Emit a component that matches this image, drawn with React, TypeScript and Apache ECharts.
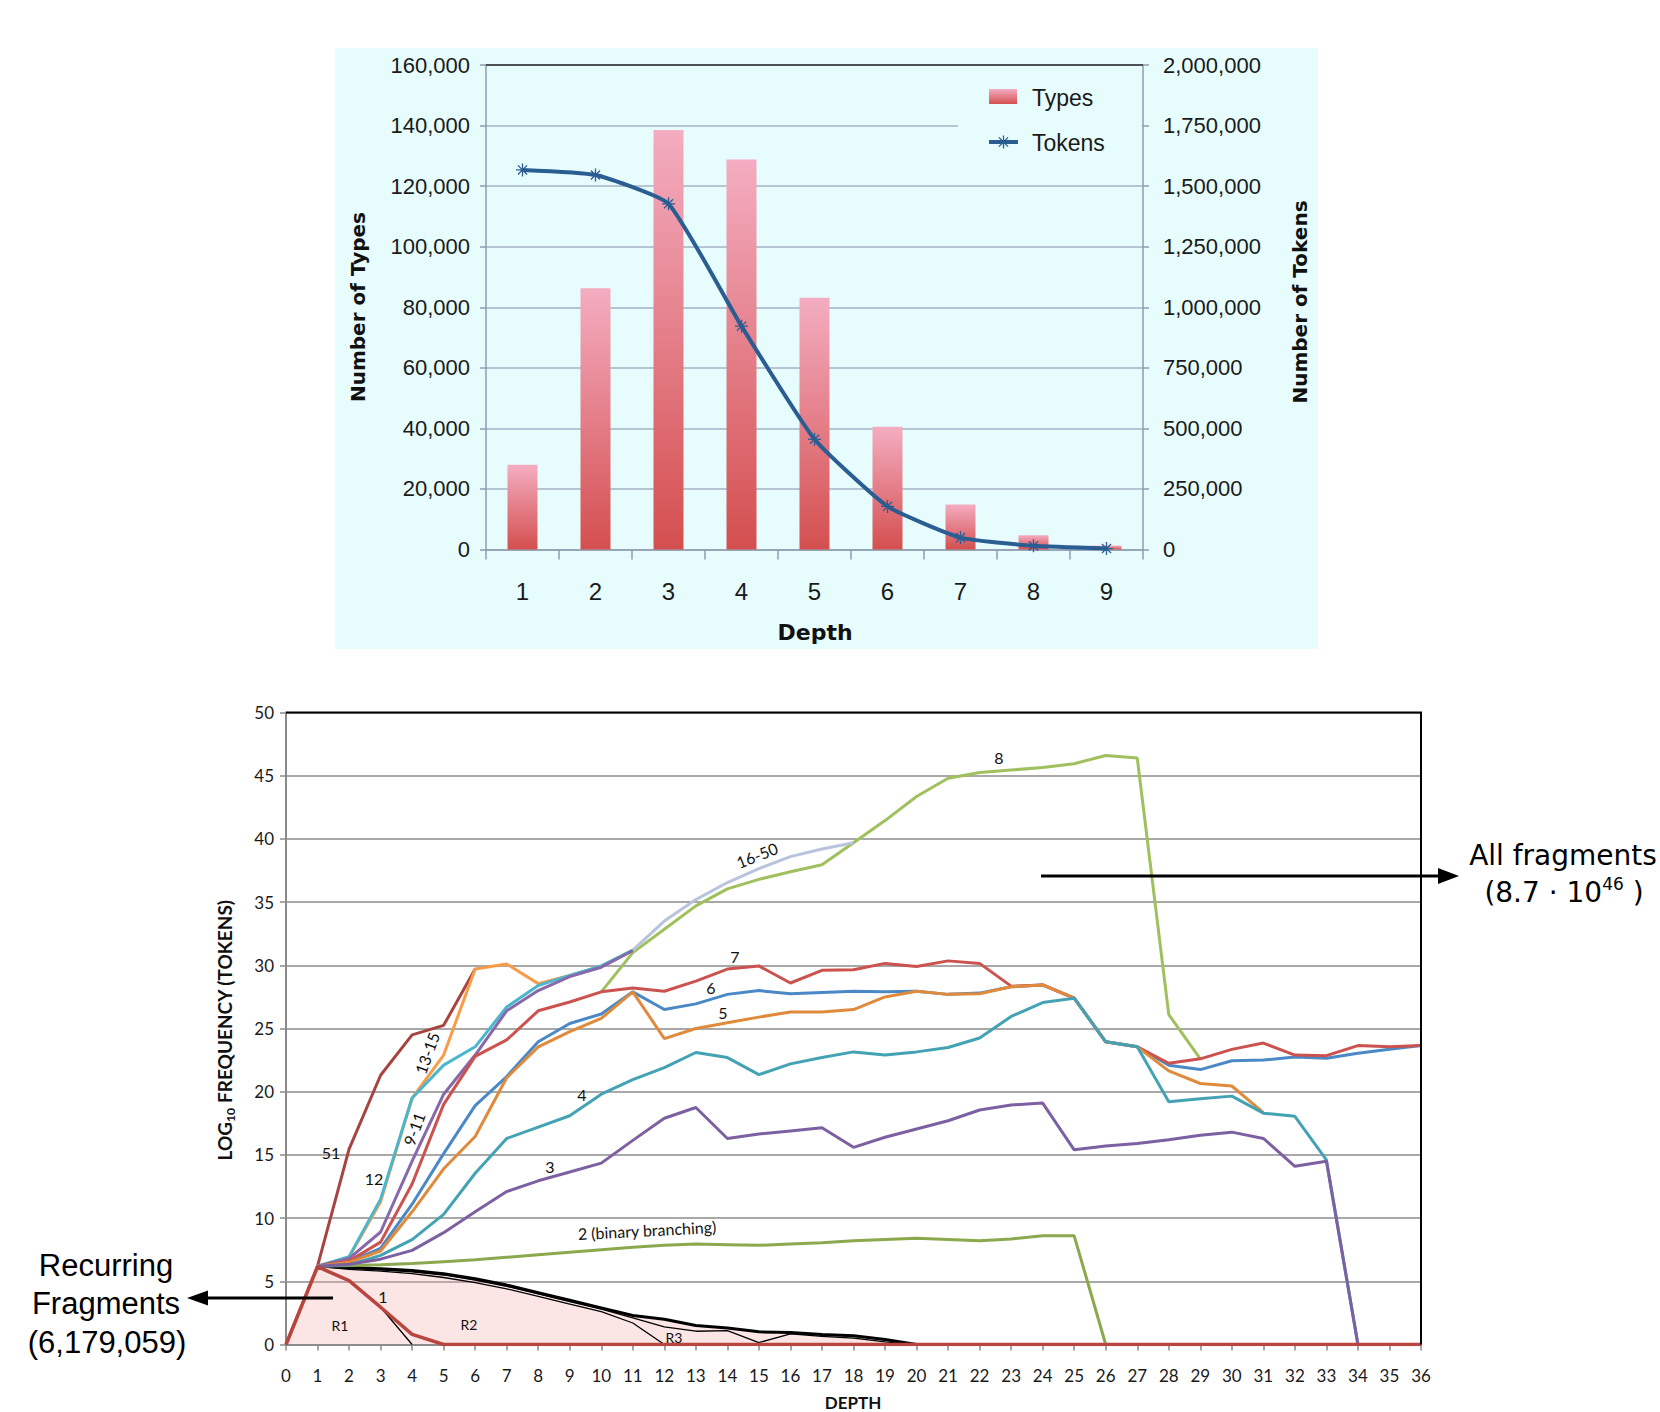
import React, { useEffect, useRef } from 'react';
import * as echarts from 'echarts';

// ---------------- Top chart data ----------------
const depthCategories = ['1', '2', '3', '4', '5', '6', '7', '8', '9'];
const numberOfTypes = [27950, 86300, 138500, 128800, 83100, 40500, 14900, 4700, 1300];
const numberOfTokens = [1567000, 1546000, 1427000, 922000, 455000, 178000, 49000, 15000, 4000];

// ---------------- Bottom chart data (log10 frequency by depth) ----------------
// each series: start depth + values for consecutive depths
const S1_START = 0;
const S1 = [0, 6.15, 5.05, 2.95, 0.8, 0, 0, 0, 0, 0, 0, 0, 0, 0, 0, 0, 0, 0, 0, 0, 0, 0, 0, 0, 0, 0, 0, 0, 0, 0, 0, 0, 0, 0, 0, 0, 0];
const S2_START = 1;
const S2 = [6.2, 6.25, 6.3, 6.4, 6.55, 6.7, 6.9, 7.1, 7.3, 7.5, 7.7, 7.85, 7.95, 7.9, 7.85, 7.95, 8.05, 8.2, 8.3, 8.4, 8.3, 8.2, 8.35, 8.6, 8.6, 0];
const S3_START = 1;
const S3 = [6.2, 6.35, 6.75, 7.45, 8.85, 10.5, 12.1, 12.95, 13.65, 14.35, 16.15, 17.9, 18.75, 16.3, 16.65, 16.9, 17.15, 15.6, 16.4, 17.05, 17.7, 18.55, 18.95, 19.1, 15.4, 15.7, 15.9, 16.2, 16.55, 16.8, 16.3, 14.1, 14.5, 0];
const S4_START = 1;
const S4 = [6.2, 6.3, 7.05, 8.3, 10.3, 13.55, 16.3, 17.2, 18.1, 19.8, 20.95, 21.9, 23.1, 22.7, 21.35, 22.2, 22.7, 23.15, 22.9, 23.15, 23.5, 24.25, 25.95, 27.05, 27.4, 23.95, 23.55, 19.2, 19.45, 19.65, 18.3, 18.05, 14.6, 0];
const S5_START = 1;
const S5 = [6.2, 6.5, 7.4, 10.5, 13.9, 16.45, 21.1, 23.55, 24.75, 25.8, 27.9, 24.2, 25.0, 25.45, 25.9, 26.3, 26.3, 26.5, 27.5, 27.95, 27.7, 27.75, 28.3, 28.45, 27.4, 23.95, 23.55, 21.65, 20.65, 20.45, 18.35];
const S6_START = 1;
const S6 = [6.2, 6.55, 7.6, 11.1, 15.1, 18.9, 21.2, 23.95, 25.4, 26.15, 27.9, 26.5, 26.95, 27.7, 28.0, 27.75, 27.85, 27.95, 27.9, 27.95, 27.7, 27.8, 28.3, 28.45, 27.4, 23.95, 23.55, 22.1, 21.75, 22.45, 22.5, 22.75, 22.65, 23.05, 23.35, 23.65];
const S7_START = 1;
const S7 = [6.2, 6.6, 8.1, 12.7, 19.0, 22.8, 24.1, 26.4, 27.1, 27.9, 28.2, 27.95, 28.75, 29.7, 29.95, 28.6, 29.6, 29.65, 30.15, 29.9, 30.35, 30.15, 28.35, 28.45, 27.4, 23.95, 23.55, 22.25, 22.6, 23.35, 23.85, 22.9, 22.85, 23.65, 23.55, 23.65];
const S8_START = 10;
const S8 = [27.9, 31.0, 32.85, 34.7, 36.05, 36.8, 37.4, 37.95, 39.7, 41.45, 43.35, 44.8, 45.25, 45.45, 45.65, 45.95, 46.6, 46.4, 26.1, 22.6];
const S9_11_START = 1;
const S9_11 = [6.2, 6.8, 8.9, 14.5, 19.8, 22.9, 26.4, 28.0, 29.1, 29.85, 31.15];
const S12_START = 1;
const S12 = [6.2, 6.95, 11.5, 19.5, 22.1, 23.55, 26.7, 28.4, 29.2, 29.95, 31.2];
const S13_15_START = 1;
const S13_15 = [6.2, 6.9, 11.3, 19.5, 22.9, 29.7, 30.1, 28.55, 29.2, 29.9, 31.2];
const S16_50_START = 11;
const S16_50 = [31.2, 33.5, 35.2, 36.55, 37.65, 38.6, 39.2, 39.7];
const S51_START = 0;
const S51 = [0, 6.2, 15.45, 21.3, 24.5, 25.25, 29.7];
// recurring fragments (black outlines)
const REC_TOTAL_START = 1;
const REC_TOTAL = [6.2, 6.1, 6.0, 5.85, 5.6, 5.2, 4.7, 4.1, 3.5, 2.9, 2.3, 2.0, 1.5, 1.3, 1.0, 0.95, 0.8, 0.7, 0.4, 0];
const REC_A_START = 1;
const REC_A = [6.2, 6.05, 5.9, 5.75, 5.5, 5.1, 4.6, 4.0, 3.4, 2.8, 2.1, 1.4, 1.05, 1.1, 0.15, 0.85, 0.65, 0.5, 0.2, 0];
const REC_B_START = 1;
const REC_B = [6.2, 5.95, 5.8, 5.6, 5.3, 4.9, 4.4, 3.8, 3.2, 2.6, 1.7, 0];
const REC_R1_START = 1;
const REC_R1 = [6.2, 5.1, 2.95, 0];

const pairs = (start: number, vals: number[]) => vals.map((v, i) => [start + i, v]);

const BG = '#e7fcfc';

function lineSeries(name: string, start: number, vals: number[], color: string, width = 3) {
  return {
    name,
    type: 'line',
    xAxisIndex: 1,
    yAxisIndex: 2,
    data: pairs(start, vals),
    symbol: 'none',
    showSymbol: false,
    silent: true,
    lineStyle: { color, width },
    itemStyle: { color },
  };
}

function label(text: string, x: number, y: number, rotDeg = 0, size = 16) {
  return {
    type: 'text',
    x,
    y,
    rotation: (rotDeg * Math.PI) / 180,
    z: 60,
    style: {
      text,
      fill: '#111',
      fontSize: size,
      fontFamily: 'Lato',
      align: 'center',
      verticalAlign: 'middle',
    },
  };
}

export default function App() {
  const ref = useRef<HTMLDivElement>(null);

  useEffect(() => {
    if (!ref.current) return;
    const chart = echarts.init(ref.current, undefined, { renderer: 'svg' });

    const barGradient = new echarts.graphic.LinearGradient(0, 0, 0, 1, [
      { offset: 0, color: '#f4adc1' },
      { offset: 1, color: '#d44f4f' },
    ]);
    const tokenBlue = '#2a5d92';
    const topAxisColor = '#8e9cb2';
    const fmt = (v: number) => v.toLocaleString('en-US');

    const ast = (cx: number, cy: number, r: number) => {
      const d = r * 0.707;
      return [
        { type: 'line', z: 20, shape: { x1: cx - r, y1: cy, x2: cx + r, y2: cy }, style: { stroke: tokenBlue, lineWidth: 1.3 } },
        { type: 'line', z: 20, shape: { x1: cx, y1: cy - r, x2: cx, y2: cy + r }, style: { stroke: tokenBlue, lineWidth: 1.3 } },
        { type: 'line', z: 20, shape: { x1: cx - d, y1: cy - d, x2: cx + d, y2: cy + d }, style: { stroke: tokenBlue, lineWidth: 1.3 } },
        { type: 'line', z: 20, shape: { x1: cx - d, y1: cy + d, x2: cx + d, y2: cy - d }, style: { stroke: tokenBlue, lineWidth: 1.3 } },
      ];
    };

    const option: any = {
      animation: false,
      backgroundColor: '#ffffff',
      grid: [
        { left: 486, top: 65, width: 657, height: 484.5 },
        { left: 286, top: 712.5, width: 1135, height: 632 },
      ],
      xAxis: [
        {
          type: 'category',
          gridIndex: 0,
          data: depthCategories,
          boundaryGap: true,
          axisLine: { lineStyle: { color: topAxisColor, width: 1.5 } },
          axisTick: { show: true, length: 10, alignWithLabel: false, lineStyle: { color: topAxisColor, width: 1.5 } },
          axisLabel: { fontSize: 24, color: '#1a1a1a', margin: 30, fontFamily: 'Liberation Sans' },
          splitLine: { show: false },
        },
        {
          type: 'value',
          gridIndex: 1,
          min: 0,
          max: 36,
          interval: 1,
          axisLine: { lineStyle: { color: '#8a8a8a', width: 2 } },
          axisTick: { show: true, length: 6, lineStyle: { color: '#8a8a8a', width: 1.5 } },
          axisLabel: { fontSize: 17, color: '#1a1a1a', margin: 22, fontFamily: 'Lato' },
          splitLine: { show: false },
        },
      ],
      yAxis: [
        {
          type: 'value',
          gridIndex: 0,
          min: 0,
          max: 160000,
          interval: 20000,
          axisLine: { show: true, lineStyle: { color: topAxisColor, width: 1.5 } },
          axisTick: { show: true, length: 6, lineStyle: { color: topAxisColor, width: 1.5 } },
          axisLabel: { fontSize: 22, color: '#1a1a1a', margin: 16, fontFamily: 'Liberation Sans', formatter: fmt },
          splitLine: { show: true, lineStyle: { color: '#a6b2c7', width: 1.5 } },
        },
        {
          type: 'value',
          gridIndex: 0,
          position: 'right',
          min: 0,
          max: 2000000,
          interval: 250000,
          axisLine: { show: true, lineStyle: { color: topAxisColor, width: 1.5 } },
          axisTick: { show: true, length: 6, lineStyle: { color: topAxisColor, width: 1.5 } },
          axisLabel: { fontSize: 22, color: '#1a1a1a', margin: 20, fontFamily: 'Liberation Sans', formatter: fmt },
          splitLine: { show: false },
        },
        {
          type: 'value',
          gridIndex: 1,
          min: 0,
          max: 50,
          interval: 5,
          axisLine: { show: true, lineStyle: { color: '#8a8a8a', width: 2 } },
          axisTick: { show: true, length: 6, lineStyle: { color: '#8a8a8a', width: 1.5 } },
          axisLabel: { fontSize: 17, color: '#1a1a1a', margin: 12, fontFamily: 'Lato' },
          splitLine: { show: true, lineStyle: { color: '#a8a8a8', width: 2 } },
        },
      ],
      series: [
        {
          name: 'Types',
          type: 'bar',
          xAxisIndex: 0,
          yAxisIndex: 0,
          data: numberOfTypes,
          barWidth: 30,
          itemStyle: { color: barGradient },
        },
        {
          name: 'Tokens',
          type: 'line',
          xAxisIndex: 0,
          yAxisIndex: 1,
          data: numberOfTokens,
          smooth: 0.15,
          symbol: 'path://M0,6L12,6M6,0L6,12M1.8,1.8L10.2,10.2M1.8,10.2L10.2,1.8',
          symbolSize: 13,
          lineStyle: { color: tokenBlue, width: 4 },
          itemStyle: { color: tokenBlue, borderColor: tokenBlue, borderWidth: 1.3 },
          z: 4,
        },
        // bottom chart
        {
          name: 'recurring area',
          type: 'line',
          xAxisIndex: 1,
          yAxisIndex: 2,
          data: [[0, 0], ...pairs(REC_TOTAL_START, REC_TOTAL)],
          symbol: 'none',
          silent: true,
          lineStyle: { width: 0, opacity: 0 },
          areaStyle: { color: 'rgba(246,170,170,0.3)', opacity: 1 },
        },
        lineSeries('recurring total', REC_TOTAL_START, REC_TOTAL, '#000000', 3),
        lineSeries('recurring A', REC_A_START, REC_A, '#000000', 1.3),
        lineSeries('recurring B', REC_B_START, REC_B, '#000000', 1.3),
        lineSeries('recurring R1', REC_R1_START, REC_R1, '#000000', 1.3),
        lineSeries('2', S2_START, S2, '#8ca84c'),
        lineSeries('8', S8_START, S8, '#9fc05c'),
        lineSeries('16-50', S16_50_START, S16_50, '#b8c3dd'),
        lineSeries('51', S51_START, S51, '#a8443f'),
        lineSeries('13-15', S13_15_START, S13_15, '#f89c48'),
        lineSeries('12', S12_START, S12, '#4bb6cd'),
        lineSeries('9-11', S9_11_START, S9_11, '#8668ab'),
        lineSeries('6', S6_START, S6, '#4a89c6'),
        lineSeries('7', S7_START, S7, '#cb524e'),
        lineSeries('5', S5_START, S5, '#e08a3b'),
        lineSeries('4', S4_START, S4, '#43a2b4'),
        lineSeries('3', S3_START, S3, '#7c60a1'),
        lineSeries('1', S1_START, S1, '#b8463f', 3.5),
      ],
      graphic: [
        // top panel background
        { type: 'rect', z: -10, shape: { x: 335, y: 48, width: 983, height: 601 }, style: { fill: BG } },
        // top border of top plot
        { type: 'line', z: 5, shape: { x1: 486, y1: 65, x2: 1143, y2: 65 }, style: { stroke: '#2b2b2b', lineWidth: 1.5 } },
        // legend backdrop interrupting gridline
        { type: 'rect', z: 3, shape: { x: 958, y: 118, width: 184, height: 18 }, style: { fill: BG } },
        // legend
        { type: 'rect', z: 20, shape: { x: 989, y: 89, width: 28, height: 15 }, style: { fill: barGradient } },
        { type: 'text', z: 20, x: 1032, y: 98, style: { text: 'Types', fill: '#1a1a1a', fontSize: 23, fontFamily: 'Liberation Sans', align: 'left', verticalAlign: 'middle' } },
        { type: 'line', z: 20, shape: { x1: 989, y1: 142, x2: 1018, y2: 142 }, style: { stroke: tokenBlue, lineWidth: 4 } },
        ...ast(1003.5, 142, 6.5),
        { type: 'text', z: 20, x: 1032, y: 143, style: { text: 'Tokens', fill: '#1a1a1a', fontSize: 23, fontFamily: 'Liberation Sans', align: 'left', verticalAlign: 'middle' } },
        // top axis titles
        { type: 'text', z: 20, x: 358, y: 307, rotation: Math.PI / 2, style: { text: 'Number of Types', fill: '#111', fontSize: 20, fontWeight: 'bold', fontFamily: 'DejaVu Sans', align: 'center', verticalAlign: 'middle' } },
        { type: 'text', z: 20, x: 1300, y: 302, rotation: Math.PI / 2, style: { text: 'Number of Tokens', fill: '#111', fontSize: 20, fontWeight: 'bold', fontFamily: 'DejaVu Sans', align: 'center', verticalAlign: 'middle' } },
        { type: 'text', z: 20, x: 815, y: 632, style: { text: 'Depth', fill: '#111', fontSize: 22, fontWeight: 'bold', fontFamily: 'DejaVu Sans', align: 'center', verticalAlign: 'middle' } },

        // bottom plot border (top & right)
        { type: 'polyline', z: 30, shape: { points: [[286, 712.5], [1421, 712.5], [1421, 1344.5]] }, style: { stroke: '#000', lineWidth: 2, fill: 'none' } },
        // bottom axis titles
        {
          type: 'text', z: 20, x: 224, y: 1030, rotation: Math.PI / 2,
          style: {
            text: '{a|LOG}{s|10}{a| FREQUENCY (TOKENS)}',
            align: 'center', verticalAlign: 'middle',
            rich: {
              a: { fontSize: 19, fontWeight: 'bold', fontFamily: 'Lato', fill: '#111', lineHeight: 24, verticalAlign: 'middle' },
              s: { fontSize: 12, fontWeight: 'bold', fontFamily: 'Lato', fill: '#111', lineHeight: 12, verticalAlign: 'bottom' },
            },
          },
        },
        { type: 'text', z: 20, x: 853, y: 1411, style: { text: 'DEPTH', fill: '#111', fontSize: 17, fontWeight: 'bold', fontFamily: 'Lato', align: 'center', verticalAlign: 'bottom' } },
        // series labels
        label('51', 331, 1152),
        label('12', 374, 1178),
        label('9-11', 414, 1129, 70),
        label('13-15', 427, 1053, 70),
        label('3', 550, 1166),
        label('4', 582, 1094),
        label('5', 723, 1012),
        label('6', 711, 987),
        label('7', 735, 956),
        label('8', 999, 757),
        label('16-50', 757, 855, 22),
        label('2 (binary branching)', 647, 1230, 3),
        label('1', 383, 1296),
        label('R1', 340, 1325, 0, 14),
        label('R2', 469, 1324, 0, 14),
        label('R3', 674, 1337, 0, 14),
        // All fragments arrow
        { type: 'line', z: 40, shape: { x1: 1041, y1: 876, x2: 1442, y2: 876 }, style: { stroke: '#000', lineWidth: 3 } },
        { type: 'polygon', z: 40, shape: { points: [[1459, 876], [1438, 868], [1438, 884]] }, style: { fill: '#000' } },
        { type: 'text', z: 40, x: 1563, y: 855, style: { text: 'All fragments', fill: '#000', fontSize: 28, fontFamily: 'DejaVu Sans', align: 'center', verticalAlign: 'middle' } },
        {
          type: 'text', z: 40, x: 1564, y: 892,
          style: {
            text: '{a|(8.7 · 10}{s|46}{a| )}',
            align: 'center', verticalAlign: 'middle',
            rich: {
              a: { fontSize: 28, fontFamily: 'DejaVu Sans', fill: '#000', lineHeight: 34, verticalAlign: 'middle' },
              s: { fontSize: 17, fontFamily: 'DejaVu Sans', fill: '#000', lineHeight: 20, verticalAlign: 'top' },
            },
          },
        },
        // Recurring fragments arrow
        { type: 'line', z: 40, shape: { x1: 333, y1: 1298, x2: 204, y2: 1298 }, style: { stroke: '#000', lineWidth: 3 } },
        { type: 'polygon', z: 40, shape: { points: [[187, 1298], [208, 1290.5], [208, 1305.5]] }, style: { fill: '#000' } },
        { type: 'text', z: 40, x: 106, y: 1265, style: { text: 'Recurring', fill: '#000', fontSize: 31, fontFamily: 'Liberation Sans', align: 'center', verticalAlign: 'middle' } },
        { type: 'text', z: 40, x: 106, y: 1303, style: { text: 'Fragments', fill: '#000', fontSize: 31, fontFamily: 'Liberation Sans', align: 'center', verticalAlign: 'middle' } },
        { type: 'text', z: 40, x: 107, y: 1342, style: { text: '(6,179,059)', fill: '#000', fontSize: 31, fontFamily: 'Liberation Sans', align: 'center', verticalAlign: 'middle' } },
      ],
    };

    chart.setOption(option);
    return () => chart.dispose();
  }, []);

  return (
    <div
      ref={ref}
      style={{ position: 'absolute', left: 0, top: 0, width: 1660, height: 1412, background: '#fff' }}
    />
  );
}
